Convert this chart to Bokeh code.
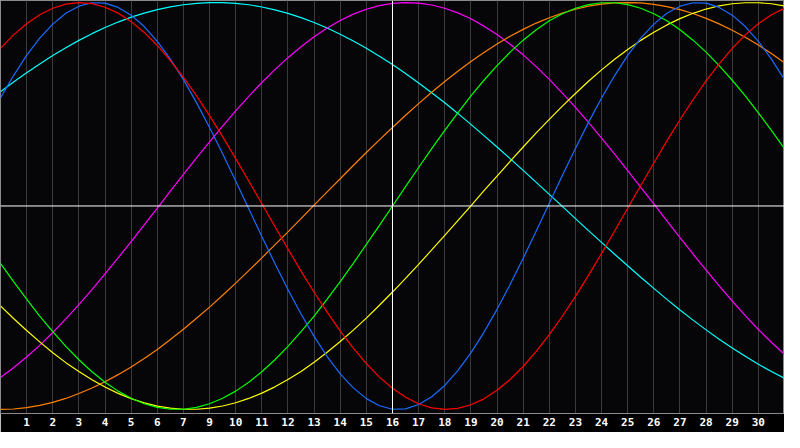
from bokeh.plotting import figure
from bokeh.models import Span, FixedTicker, Range1d
from bokeh.embed import file_html
from bokeh.resources import INLINE

# Column index of each day line and of each mid-day point; tick labels (day 8 is absent on the axis)
day_pos = list(range(0, 31))
mid_pos = [i + 0.5 for i in range(0, 30)]
tick_pos = list(range(1, 30))
tick_labels = ["1", "2", "3", "4", "5", "6", "7", "9", "10", "11", "12", "13", "14", "15",
               "16", "17", "18", "19", "20", "21", "22", "23", "24", "25", "26", "27", "28",
               "29", "30"]
today_idx = 15

# Curve values in percent at each day line ..._day and mid-day ..._mid
red_day = [77.5, 89.6, 97.2, 100, 97.7, 90.6, 78.9, 63.2, 44.4, 23.3, 1.1, -21.1, -42.4, -61.5,
           -77.5, -89.6, -97.2, -100, -97.7, -90.6, -78.9, -63.2, -44.4, -23.3, -1.1, 21.1, 42.4,
           61.5, 77.5, 89.6, 97.2]
red_mid = [84.1, 94.0, 99.2, 99.5, 94.8, 85.3, 71.5, 54.2, 34.1, 12.3, -10.1, -32.0, -52.2, -69.9,
           -84.1, -94.0, -99.2, -99.5, -94.8, -85.3, -71.5, -54.2, -34.1, -12.3, 10.1, 32.0, 52.2,
           69.9, 84.1, 94.0]

blue_day = [53.1, 74.0, 89.4, 98.2, 99.7, 93.8, 80.9, 62.1, 38.6, 12.3, -15.0, -41.1, -64.1, -82.5,
            -94.7, -99.9, -97.6, -88.2, -72.2, -50.8, -25.7, 1.4, 28.3, 53.1, 74.0, 89.4, 98.2,
            99.7, 93.8, 80.9, 62.1]
blue_mid = [64.1, 82.5, 94.7, 99.9, 97.6, 88.2, 72.2, 50.8, 25.7, -1.4, -28.3, -53.1, -74.0, -89.4,
            -98.2, -99.7, -93.8, -80.9, -62.1, -38.6, -12.3, 15.0, 41.1, 64.1, 82.5, 94.7, 99.9,
            97.6, 88.2, 72.2]

green_day = [-28.2, -45.8, -61.8, -75.6, -86.6, -94.5, -99.0, -99.9, -97.2, -91.0, -81.5, -69.0,
             -54.1, -37.2, -18.9, 0.0, 18.9, 37.2, 54.1, 69.0, 81.5, 91.0, 97.2, 99.9, 99.0, 94.5,
             86.6, 75.6, 61.8, 45.8, 28.2]
green_mid = [-37.2, -54.1, -69.0, -81.5, -91.0, -97.2, -99.9, -99.0, -94.5, -86.6, -75.6, -61.8,
             -45.8, -28.2, -9.5, 9.5, 28.2, 45.8, 61.8, 75.6, 86.6, 94.5, 99.0, 99.9, 97.2, 91.0,
             81.5, 69.0, 54.1, 37.2]

cyan_day = [56.1, 65.5, 74.0, 81.4, 87.7, 92.8, 96.5, 98.9, 100.0, 99.6, 97.8, 94.7, 90.2, 84.4,
            77.5, 69.5, 60.5, 50.7, 40.1, 29.0, 17.5, 5.7, -6.2, -17.9, -29.4, -40.5, -51.1, -60.9,
            -69.8, -77.8, -84.7]
cyan_mid = [60.9, 69.8, 77.8, 84.7, 90.4, 94.8, 97.9, 99.6, 100.0, 98.9, 96.4, 92.6, 87.5, 81.1,
            73.6, 65.1, 55.7, 45.5, 34.6, 23.3, 11.6, -0.2, -12.1, -23.7, -35.0, -45.9, -56.1,
            -65.5, -73.9, -81.4]

magenta_day = [-84.3, -74.2, -62.2, -48.5, -33.4, -17.5, -1.0, 15.5, 31.5, 46.7, 60.7, 72.9, 83.2,
               91.2, 96.7, 99.6, 99.7, 97.2, 92.0, 84.3, 74.3, 62.2, 48.5, 33.4, 17.4, 1.0, -15.5,
               -31.5, -46.7, -60.7, -72.9]
magenta_mid = [-79.5, -68.5, -55.5, -41.1, -25.5, -9.3, 7.3, 23.6, 39.3, 53.9, 67.0, 78.3, 87.5,
               94.3, 98.5, 100.0, 98.8, 94.9, 88.4, 79.5, 68.5, 55.5, 41.1, 25.5, 9.2, -7.3, -23.6,
               -39.3, -53.9, -67.0]

orange_day = [-100.0, -99.1, -96.5, -92.2, -86.4, -79.1, -70.5, -60.6, -49.7, -37.9, -25.5, -12.7,
              0.4, 13.4, 26.3, 38.6, 50.3, 61.2, 71.0, 79.6, 86.8, 92.5, 96.7, 99.2, 100.0, 99.1,
              96.5, 92.2, 86.4, 79.1, 70.4]
orange_mid = [-99.8, -98.0, -94.6, -89.5, -82.9, -75.0, -65.6, -55.2, -43.9, -31.8, -19.1, -6.2,
              6.9, 19.9, 32.5, 44.6, 55.9, 66.2, 75.4, 83.4, 89.9, 94.8, 98.2, 99.8, 99.8, 98.0,
              94.6, 89.5, 82.9, 74.9]

yellow_day = [-49.1, -61.2, -72.1, -81.4, -89.0, -94.7, -98.4, -99.9, -99.4, -96.7, -92.0, -85.3,
              -76.8, -66.6, -55.1, -42.3, -28.7, -14.4, 0.1, 14.7, 29.0, 42.6, 55.3, 66.9, 76.9,
              85.4, 92.1, 96.8, 99.4, 99.9, 98.3]
yellow_mid = [-55.3, -66.8, -77.0, -85.4, -92.1, -96.8, -99.4, -99.9, -98.3, -94.6, -88.9, -81.3,
              -71.9, -61.0, -48.8, -35.6, -21.6, -7.2, 7.5, 21.9, 35.9, 49.1, 61.3, 72.1, 81.4,
              89.0, 94.7, 98.4, 99.9, 99.4]

series = [
    (cyan_day, cyan_mid, "#00ffff"),
    (magenta_day, magenta_mid, "#ff00ff"),
    (orange_day, orange_mid, "#ff8000"),
    (yellow_day, yellow_mid, "#ffff00"),
    (green_day, green_mid, "#00ff00"),
    (blue_day, blue_mid, "#1a6cff"),
    (red_day, red_mid, "#ff0000"),
]


def merged(day_vals, mid_vals):
    pts = list(zip(day_pos, day_vals)) + list(zip(mid_pos, mid_vals))
    pts.sort(key=lambda q: q[0])
    return [q[0] for q in pts], [q[1] for q in pts]


p = figure(width=784, height=432, output_backend="svg", toolbar_location=None,
           x_range=Range1d(0, 30), y_range=Range1d(-102, 101))
p.min_border_left = 0
p.min_border_right = 0
p.min_border_top = 0
p.min_border_bottom = 19
p.background_fill_color = "#060609"
p.border_fill_color = "#000000"
p.outline_line_color = "#8a8a8a"
p.outline_line_width = 1

p.yaxis.visible = False
p.ygrid.visible = False

xa = p.xaxis[0]
xa.ticker = FixedTicker(ticks=tick_pos)
xa.major_label_overrides = {t: s for t, s in zip(tick_pos, tick_labels)}
xa.axis_line_color = "#8a8a8a"
xa.major_tick_line_color = None
xa.minor_tick_line_color = None
xa.major_tick_out = 0
xa.major_tick_in = 0
xa.major_label_standoff = 4
xa.major_label_text_color = "#ffffff"
xa.major_label_text_font = "DejaVu Sans Mono"
xa.major_label_text_font_style = "bold"
xa.major_label_text_font_size = "11px"

p.xgrid.ticker = FixedTicker(ticks=tick_pos)
p.xgrid.grid_line_color = "#3a3a3a"
p.xgrid.grid_line_width = 1

p.add_layout(Span(location=today_idx, dimension="height", line_color="#ffffff", line_width=1))
p.add_layout(Span(location=0, dimension="width", line_color="#ffffff", line_width=1))

for dv, mv, col in series:
    xs, ys = merged(dv, mv)
    p.line(xs, ys, line_color=col, line_width=1.2)

open("out.html", "w").write(file_html(p, INLINE))
